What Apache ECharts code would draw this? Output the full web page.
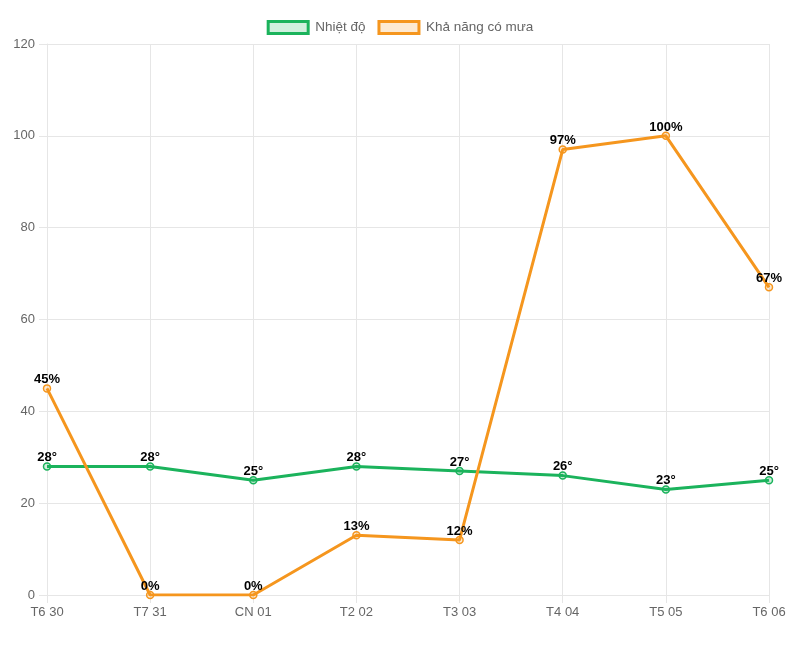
<!DOCTYPE html>
<html>
<head>
<meta charset="utf-8">
<script src="https://cdn.jsdelivr.net/npm/echarts@6/dist/echarts.min.js"></script>
<style>
html,body{margin:0;padding:0;background:#fff;}
#chart{width:800px;height:645px;}
</style>
</head>
<body>
<div id="chart"></div>
<script>
const categories = ['T6 30','T7 31','CN 01','T2 02','T3 03','T4 04','T5 05','T6 06'];
const temperature = [28,28,25,28,27,26,23,25];
const rainChance = [45,0,0,13,12,97,100,67];
const yTicks = {min:0, max:120, interval:20};

const green = '#1bb35c';
const greenFill = 'rgba(27,179,92,0.2)';
const orange = '#f5961e';
const orangeFill = 'rgba(245,150,30,0.2)';
const gridColor = '#e6e6e6';
const font = 'Arial, "Liberation Sans", Helvetica, sans-serif';

const chart = echarts.init(document.getElementById('chart'), null, {renderer:'canvas'});
chart.setOption({
  animation:false,
  textStyle:{fontFamily:font},
  legend:{
    top:15,
    left:'center',
    icon:'rect',
    itemWidth:40,
    itemHeight:12,
    itemGap:12,
    textStyle:{color:'#666',fontSize:13.5,fontFamily:font,padding:[0,0,0,2]},
    itemStyle:{borderWidth:3},
    data:[
      {name:'Nhiệt độ', itemStyle:{color:greenFill,borderColor:green,borderWidth:3}},
      {name:'Khả năng có mưa', itemStyle:{color:orangeFill,borderColor:orange,borderWidth:3}}
    ]
  },
  grid:{left:47,right:31,top:44,bottom:50,containLabel:false},
  xAxis:{
    type:'category',
    data:categories,
    boundaryGap:false,
    axisLine:{show:true,lineStyle:{color:gridColor}},
    axisTick:{show:true,length:8,alignWithLabel:true,lineStyle:{color:gridColor}},
    splitLine:{show:true,lineStyle:{color:gridColor}},
    axisLabel:{color:'#666',fontSize:13,margin:11,fontFamily:font}
  },
  yAxis:{
    type:'value',
    min:yTicks.min,max:yTicks.max,interval:yTicks.interval,
    axisLine:{show:true,lineStyle:{color:gridColor}},
    axisTick:{show:true,length:8,lineStyle:{color:gridColor}},
    splitLine:{show:true,lineStyle:{color:gridColor}},
    axisLabel:{color:'#666',fontSize:13,margin:12,fontFamily:font}
  },
  series:[
    {
      name:'Nhiệt độ',
      type:'line',
      data:temperature,
      symbol:'circle',
      symbolSize:7,
      showAllSymbol:true,
      lineStyle:{color:green,width:3},
      itemStyle:{color:greenFill,borderColor:green,borderWidth:1.5},
      label:{show:true,position:'top',distance:-2,formatter:p=>p.value+'°',color:'#000',fontWeight:'bold',fontSize:13,fontFamily:font},
      z:3
    },
    {
      name:'Khả năng có mưa',
      type:'line',
      data:rainChance,
      symbol:'circle',
      symbolSize:7,
      showAllSymbol:true,
      lineStyle:{color:orange,width:3},
      itemStyle:{color:orangeFill,borderColor:orange,borderWidth:1.5},
      label:{show:true,position:'top',distance:-2,formatter:p=>p.value+'%',color:'#000',fontWeight:'bold',fontSize:13,fontFamily:font},
      z:4
    }
  ]
});
</script>
</body>
</html>
